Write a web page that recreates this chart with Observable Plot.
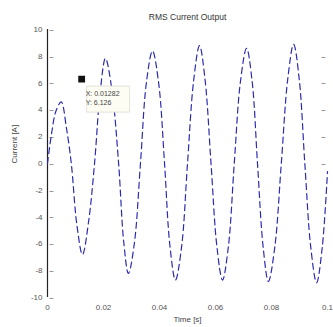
<!DOCTYPE html>
<html>
<head>
<meta charset="utf-8">
<script src="https://cdn.jsdelivr.net/npm/d3@7"></script>
<script src="https://cdn.jsdelivr.net/npm/@observablehq/plot@0.6"></script>
<style>
  html, body { margin: 0; padding: 0; background: #fff; }
  #chart { width: 333px; height: 327px; }
  svg { font-family: "Liberation Sans", Arial, sans-serif; }
</style>
</head>
<body>
<div id="chart"></div>
<script>
// Waveform samples (time in s, current in A)
const time = [
  0, 0.0015, 0.0030, 0.0049, 0.0068, 0.0085, 0.0105, 0.0125, 0.0147, 0.0168,
  0.0188, 0.0207, 0.0230, 0.0254, 0.0272, 0.0289, 0.0310, 0.0332,
  0.0353, 0.0375, 0.0397, 0.0418, 0.0437, 0.0457, 0.0479, 0.0500,
  0.0522, 0.0543, 0.0563, 0.0584, 0.0605, 0.0625, 0.0646, 0.0667,
  0.0689, 0.0711, 0.0731, 0.0750, 0.0770, 0.0789, 0.0812, 0.0835,
  0.0858, 0.0879, 0.0899, 0.0919, 0.0940, 0.0961, 0.0981, 0.1000
];
const current = [
  0, 2.3, 3.9, 4.6, 2.6, 0, -4.6, -6.8, -4.3, 0,
  5.3, 7.85, 5.5, 0, -5.8, -8.2, -6.0, 0,
  6.0, 8.4, 6.0, 0, -6.1, -8.7, -6.2, 0,
  6.2, 8.8, 6.2, 0, -6.2, -8.7, -6.2, 0,
  6.1, 8.6, 6.1, 0, -6.2, -8.8, -6.2, 0,
  6.3, 8.9, 6.3, 0, -6.2, -8.9, -6.3, -0.6
];
const xTicks = [0, 0.02, 0.04, 0.06, 0.08, 0.1];
const xTickLabels = ["0", "0.02", "0.04", "0.06", "0.08", "0.1"];
const yTicks = [10, 8, 6, 4, 2, 0, -2, -4, -6, -8, -10];
const yTickLabels = ["10", "8", "6", "4", "2", "0", "-2", "-4", "-6", "-8", "-10"];
const rightTicks = [8, 6, 4, 2, 0];
// datatip
const tipX = [0.0122];
const tipY = [6.3];
const tipLines = ["X: 0.01282", "Y: 6.126"];

const data = time.map((t, i) => ({t, v: current[i]}));
const tip = tipX.map((x, i) => ({x, y: tipY[i]}));

// datatip box drawn as a custom symbol, offset from the marker
const tipBox = {draw(context) { context.rect(5, 7, 43, 26); }};

const chart = Plot.plot({
  width: 333,
  height: 327,
  marginLeft: 47,
  marginRight: 6,
  marginTop: 29,
  marginBottom: 30,
  style: {background: "#fff", fontFamily: "Liberation Sans, Arial, sans-serif"},
  x: {domain: [0, 0.1], axis: null},
  y: {domain: [-10, 10], axis: null},
  marks: [
    // left axis line
    Plot.ruleX([0], {stroke: "#222", strokeWidth: 1.2}),
    // left ticks (inward)
    Plot.text(yTicks, {x: 0, y: d => d, text: d => "–", dx: 2, fill: "#444", fontSize: 7, textAnchor: "start"}),
    Plot.text(yTicks, {x: 0, y: d => d, text: (d, i) => yTickLabels[i], dx: -5, textAnchor: "end", fill: "#555", fontSize: 8}),
    // right ticks
    Plot.text(rightTicks, {x: 0.1, y: d => d, text: d => "–", dx: -2, fill: "#444", fontSize: 7, textAnchor: "end"}),
    // x tick labels
    Plot.text(xTicks, {x: d => d, y: -10, text: (d, i) => xTickLabels[i], dy: 10, fill: "#555", fontSize: 8}),
    // waveform
    Plot.line(data, {x: "t", y: "v", curve: "catmull-rom", stroke: "#2b2bb0", strokeWidth: 1.2, strokeDasharray: "6,4"}),
    // datatip box, marker and text
    Plot.dot(tip, {x: "x", y: "y", symbol: tipBox, r: 3, fill: "#fdfdf4", stroke: "#e2e2d8", strokeWidth: 1}),
    Plot.dot(tip, {x: "x", y: "y", symbol: "square", r: 3, fill: "#111", stroke: "#111"}),
    Plot.text(tip, {x: "x", y: "y", text: () => tipLines[0], dx: 4, dy: 15, textAnchor: "start", fill: "#444", fontSize: 7}),
    Plot.text(tip, {x: "x", y: "y", text: () => tipLines[1], dx: 4, dy: 24, textAnchor: "start", fill: "#444", fontSize: 7}),
    // title and axis labels
    Plot.text(["RMS Current Output"], {frameAnchor: "top", dy: -16, fill: "#333", fontSize: 8.5}),
    Plot.text(["Time [s]"], {frameAnchor: "bottom", dy: 24, fill: "#444", fontSize: 8}),
    Plot.text(["Current [A]"], {frameAnchor: "left", dx: -33, rotate: -90, fill: "#444", fontSize: 8})
  ]
});
document.getElementById("chart").appendChild(chart);
</script>
</body>
</html>
